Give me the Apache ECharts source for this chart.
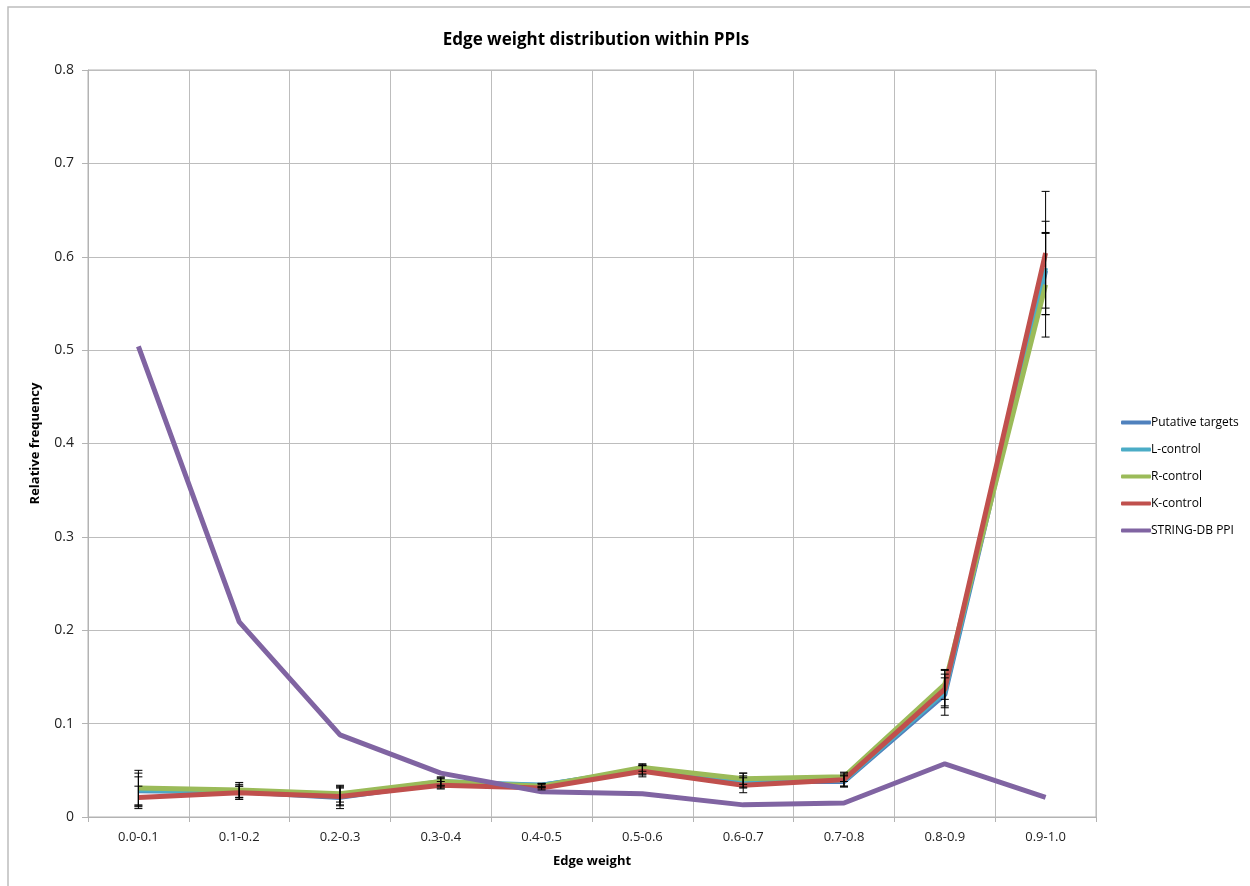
<!DOCTYPE html>
<html><head><meta charset="utf-8">
<script src="https://cdn.jsdelivr.net/npm/echarts@6/dist/echarts.min.js"></script>
<style>html,body{margin:0;padding:0;background:#fff}#c{width:1250px;height:886px}</style>
</head><body><div id="c"></div>
<script>
const categories = ['0.0-0.1','0.1-0.2','0.2-0.3','0.3-0.4','0.4-0.5','0.5-0.6','0.6-0.7','0.7-0.8','0.8-0.9','0.9-1.0'];
const putative = [0.028,0.027,0.021,0.036,0.034,0.050,0.038,0.038,0.131,0.585];
const lControl = [0.029,0.027,0.022,0.038,0.034,0.051,0.039,0.039,0.134,0.588];
const rControl = [0.031,0.029,0.025,0.038,0.033,0.053,0.041,0.043,0.142,0.570];
const kControl = [0.021,0.026,0.022,0.034,0.031,0.049,0.034,0.040,0.137,0.604];
const stringDb = [0.504,0.209,0.088,0.047,0.027,0.025,0.013,0.015,0.057,0.021];
const putativeErr = [0.015,0.006,0.012,0.005,0.002,0.005,0.006,0.006,0.022,0.040];
const lControlErr = [0.018,0.008,0.010,0.004,0.002,0.005,0.008,0.006,0.015,0.050];
const rControlErr = [0.019,0.008,0.009,0.005,0.002,0.004,0.006,0.005,0.016,0.056];
const kControlErr = [0.012,0.007,0.009,0.004,0.002,0.006,0.008,0.007,0.020,0.066];
const yTicks = [0,0.1,0.2,0.3,0.4,0.5,0.6,0.7,0.8];

const names = ['Putative targets','L-control','R-control','K-control','STRING-DB PPI'];
const colors = ['#4F81BD','#4BACC6','#9BBB59','#C0504D','#8064A2'];
const vals = [putative,lControl,rControl,kControl,stringDb];
const errs = [putativeErr,lControlErr,rControlErr,kControlErr];

const errData = [];
errs.forEach((e,s)=>{ e.forEach((d,i)=>{ errData.push([i, vals[s][i]-d, vals[s][i]+d]); }); });

const chart = echarts.init(document.getElementById('c'));
const series = vals.map((v,i)=>({
  name: names[i], type:'line', data:v, symbol:'none', z: 2+i,
  lineStyle:{color:colors[i], width:5}, itemStyle:{color:colors[i]}
}));
series.push({
  type:'custom', z: 20, silent:true,
  data: errData,
  encode:{x:0,y:[1,2]},
  renderItem:(params, api)=>{
    const x = api.value(0);
    const lo = api.coord([x, api.value(1)]);
    const hi = api.coord([x, api.value(2)]);
    const w = 4;
    const st = {stroke:'#000', lineWidth:1};
    return {type:'group', children:[
      {type:'line', shape:{x1:lo[0],y1:lo[1],x2:hi[0],y2:hi[1]}, style:st},
      {type:'line', shape:{x1:lo[0]-w,y1:lo[1],x2:lo[0]+w,y2:lo[1]}, style:st},
      {type:'line', shape:{x1:hi[0]-w,y1:hi[1],x2:hi[0]+w,y2:hi[1]}, style:st}
    ]};
  }
});
chart.setOption({
  animation:false,
  backgroundColor:'#fff',
  graphic:[{type:'rect', shape:{x:8,y:7,width:1300,height:1000}, style:{fill:'none', stroke:'#bdbdbd', lineWidth:1.5}, z:-1}],
  title:{text:'Edge weight distribution within PPIs', left:591, top:27, textAlign:'center',
    textStyle:{fontFamily:'Open Sans', fontSize:17, fontWeight:'bold', color:'#000'}},
  legend:{orient:'vertical', left:1116, top:410, itemGap:12, itemWidth:30, itemHeight:4,
    icon:'roundRect', data:names,
    textStyle:{fontFamily:'Open Sans', fontSize:12, lineHeight:15, color:'#000', padding:[0,0,0,-5]}},
  grid:{left:88, right:154, top:70, bottom:69, show:true, borderColor:'#b3b3b3', borderWidth:1},
  xAxis:{type:'category', data:categories, boundaryGap:true,
    name:'Edge weight', nameLocation:'middle', nameGap:38,
    nameTextStyle:{fontFamily:'Open Sans', fontSize:13, fontWeight:'bold', color:'#000'},
    axisLine:{lineStyle:{color:'#b3b3b3'}}, axisTick:{show:true, length:5, lineStyle:{color:'#b3b3b3'}},
    axisLabel:{fontFamily:'Open Sans', fontSize:13, color:'#222', margin:14},
    splitLine:{show:true, lineStyle:{color:'#bdbdbd', width:1}}},
  yAxis:{type:'value', min:0, max:0.8, interval:0.1,
    name:'Relative frequency', nameLocation:'middle', nameGap:46, nameRotate:90,
    nameTextStyle:{fontFamily:'Open Sans', fontSize:13, fontWeight:'bold', color:'#000'},
    axisLine:{show:true, lineStyle:{color:'#b3b3b3'}}, axisTick:{show:true, length:6, lineStyle:{color:'#b3b3b3'}},
    axisLabel:{fontFamily:'Open Sans', fontSize:14, color:'#222', margin:14,
      formatter:(v)=>{ const t = yTicks.find(k=>Math.abs(k-v)<1e-9); return t===0?'0':String(Number(t.toFixed(1))); }},
    splitLine:{show:true, lineStyle:{color:'#bdbdbd', width:1}}},
  series: series
});
</script></body></html>
